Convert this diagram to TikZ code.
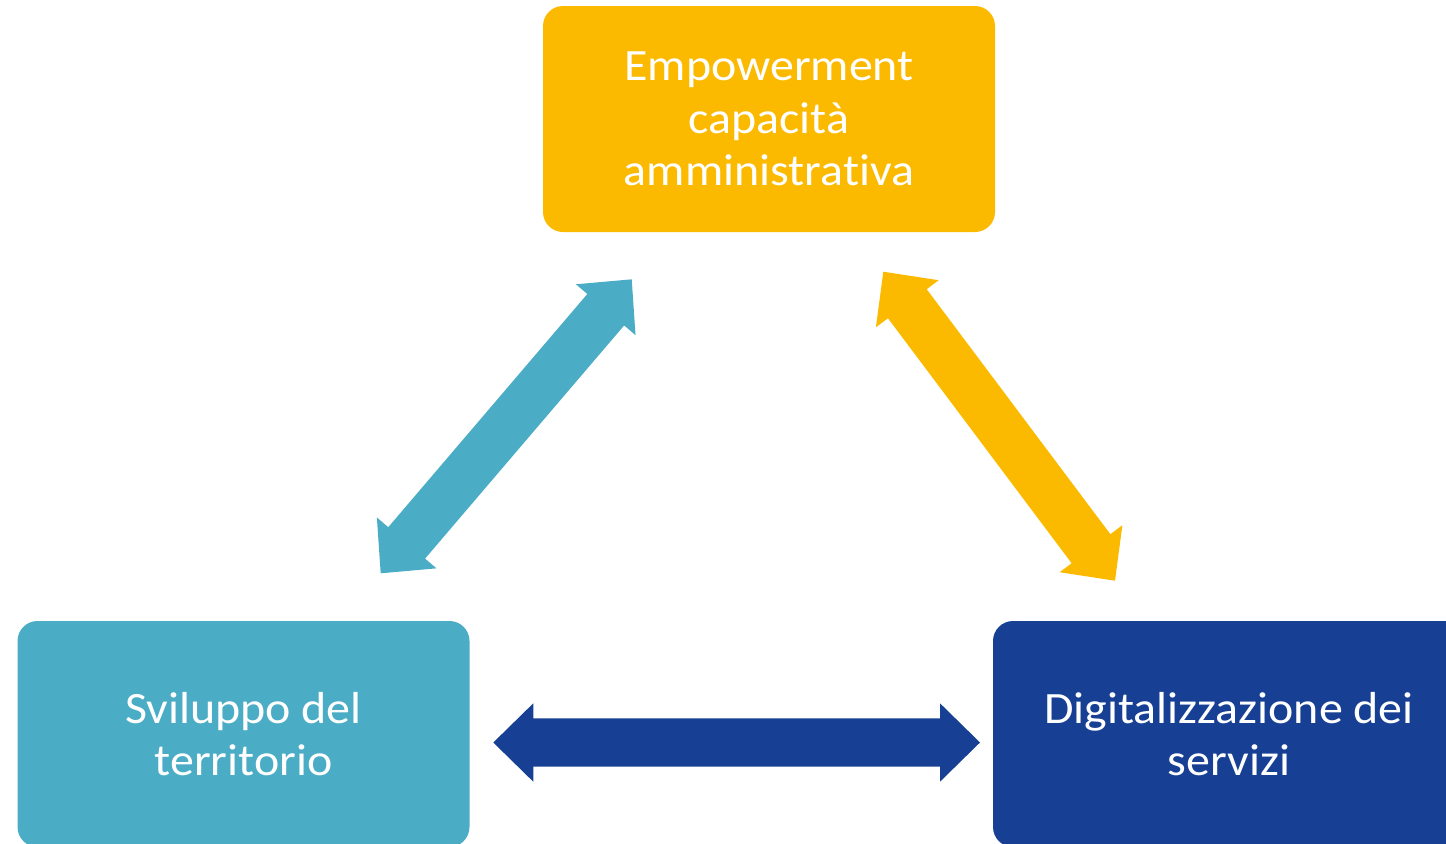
\documentclass[tikz,border=0pt]{standalone}
\usepackage{fontspec}
\setmainfont{Carlito}[Ligatures=NoCommon,FakeStretch=1.07]
\usepackage{xcolor}
\usepackage{tikz}
\usetikzlibrary{calc,positioning}
\definecolor{gold}{RGB}{251,186,0}
\definecolor{aqua}{RGB}{75,172,198}
\definecolor{navy}{RGB}{23,64,148}
\newcommand{\arrhead}{20pt}
\newcommand{\arrwing}{19.6pt}
\newcommand{\arrshaft}{12.1pt}
\newcommand{\biarrow}[3]{%
  \coordinate (#1h) at ($(#1)!\arrhead!(#2)$);
  \coordinate (#2h) at ($(#2)!\arrhead!(#1)$);
  \fill[#3] (#1)
    -- ($(#1h)!\arrwing!90:(#2)$) -- ($(#1h)!\arrshaft!90:(#2)$)
    -- ($(#2h)!\arrshaft!-90:(#1)$) -- ($(#2h)!\arrwing!-90:(#1)$)
    -- (#2)
    -- ($(#2h)!\arrwing!90:(#1)$) -- ($(#2h)!\arrshaft!90:(#1)$)
    -- ($(#1h)!\arrshaft!-90:(#2)$) -- ($(#1h)!\arrwing!-90:(#2)$)
    -- cycle;}
\begin{document}
\begin{tikzpicture}[x=0.5pt,y=-0.5pt,
  main box/.style={rectangle,rounded corners=10pt,inner sep=0pt,
    minimum width=226pt,minimum height=113pt,text=white,align=center,
    font=\fontsize{22.4pt}{26.25pt}\selectfont}]
          \useasboundingbox (0,0) rectangle (1446,843);
          \node[main box,fill=gold] at (769,119) (emp) {Empowerment\\capacità\\amministrativa};
          \node[main box,fill=aqua] at (243.5,734) (svi) {Sviluppo del\\territorio};
          \node[main box,fill=navy,minimum width=236pt] at (1229,734) (dig) {Digitalizzazione dei\\servizi};
          \coordinate (sa) at (380.7,573.3);
          \coordinate (sb) at (631.7,279.3);
          \coordinate (ea) at (883.3,271.7);
          \coordinate (eb) at (1115,580.7);
          \coordinate (da) at (493.3,742.5);
          \coordinate (db) at (980,742.5);
          \biarrow{sa}{sb}{aqua}
          \biarrow{ea}{eb}{gold}
          \biarrow{da}{db}{navy}
        \end{tikzpicture}
\end{document}
